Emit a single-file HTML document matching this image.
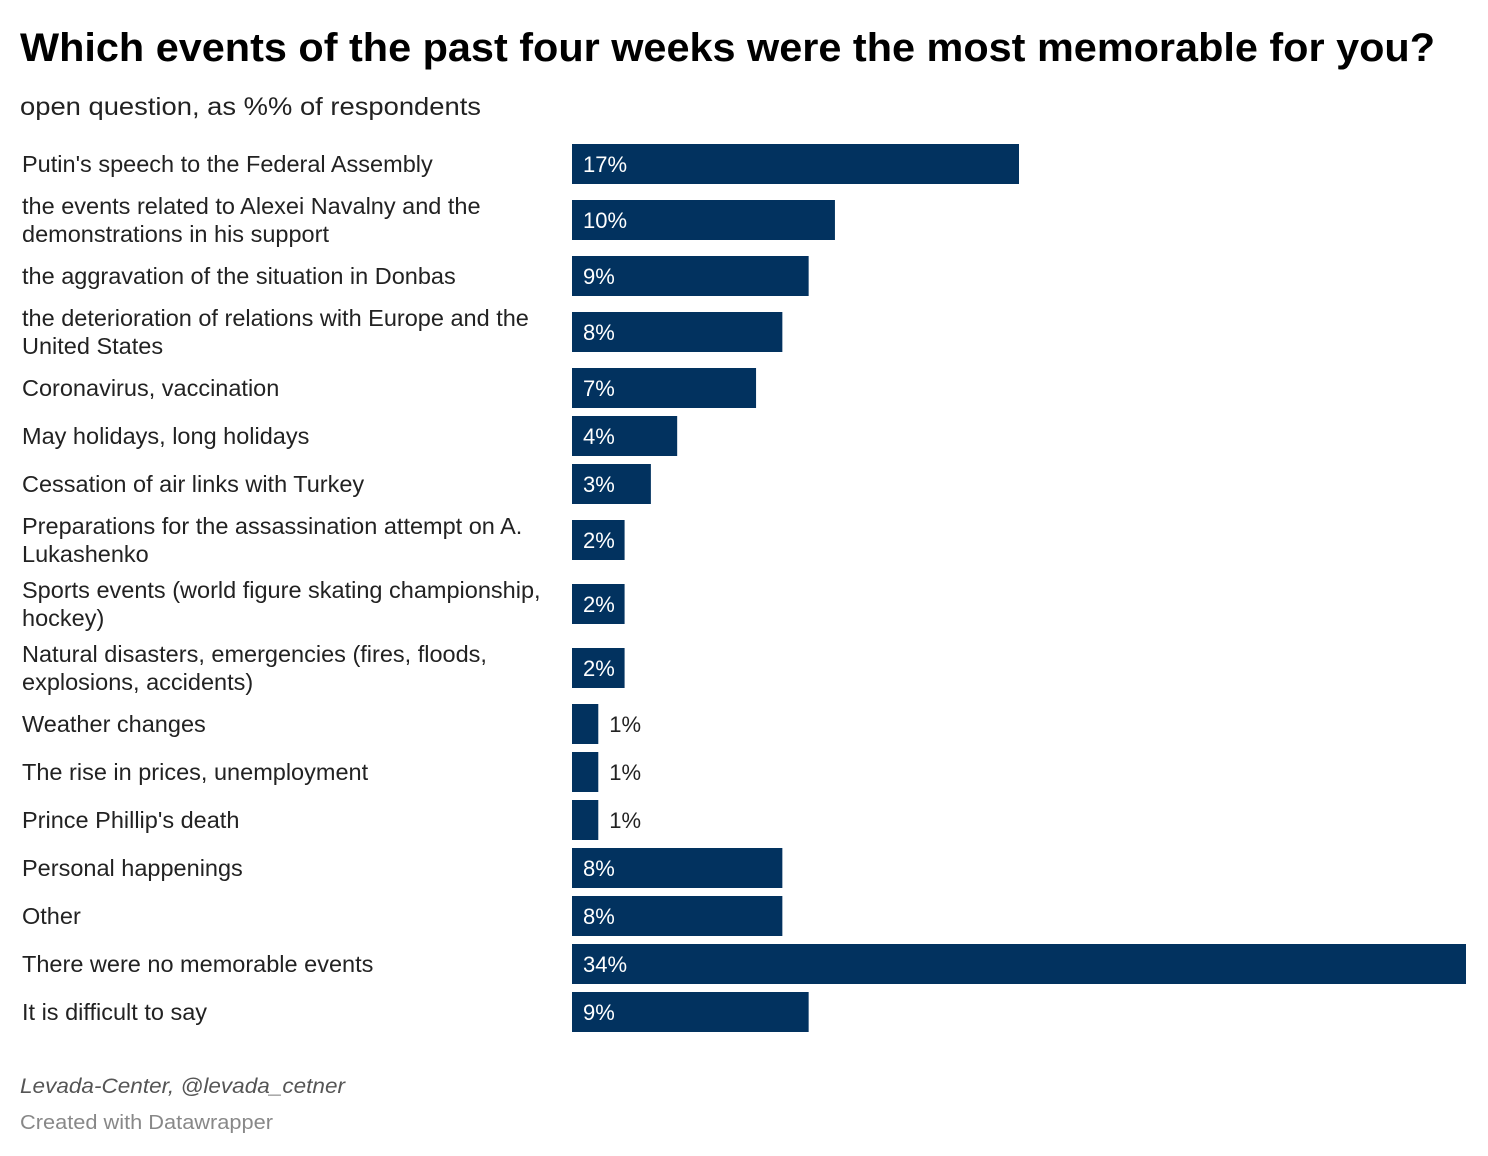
<!DOCTYPE html>
<html><head><meta charset="utf-8">
<style>
html,body{margin:0;padding:0;background:#fff;}
svg{display:block;font-family:"Liberation Sans",Arial,sans-serif;}
</style></head>
<body>
<svg id="chart" width="1488" height="1156" viewBox="0 0 1488 1156" xmlns="http://www.w3.org/2000/svg">
<text x="20" y="61" font-size="40" font-weight="bold" fill="#000" textLength="1415" lengthAdjust="spacingAndGlyphs">Which events of the past four weeks were the most memorable for you?</text>
<text x="20" y="115" font-size="25" fill="#222" textLength="461" lengthAdjust="spacingAndGlyphs">open question, as %% of respondents</text>
<g id="rows"></g>
<text x="20" y="1093" font-size="21" font-style="italic" fill="#555" textLength="325" lengthAdjust="spacingAndGlyphs">Levada-Center, @levada_cetner</text>
<text x="20" y="1129" font-size="20" fill="#888" textLength="253" lengthAdjust="spacingAndGlyphs">Created with Datawrapper</text>
</svg>
<script>
const categories = [
  ["Putin's speech to the Federal Assembly"],
  ["the events related to Alexei Navalny and the","demonstrations in his support"],
  ["the aggravation of the situation in Donbas"],
  ["the deterioration of relations with Europe and the","United States"],
  ["Coronavirus, vaccination"],
  ["May holidays, long holidays"],
  ["Cessation of air links with Turkey"],
  ["Preparations for the assassination attempt on A.","Lukashenko"],
  ["Sports events (world figure skating championship,","hockey)"],
  ["Natural disasters, emergencies (fires, floods,","explosions, accidents)"],
  ["Weather changes"],
  ["The rise in prices, unemployment"],
  ["Prince Phillip's death"],
  ["Personal happenings"],
  ["Other"],
  ["There were no memorable events"],
  ["It is difficult to say"]
];
const values = [17,10,9,8,7,4,3,2,2,2,1,1,1,8,8,34,9];
const valueLabels = ["17%","10%","9%","8%","7%","4%","3%","2%","2%","2%","1%","1%","1%","8%","8%","34%","9%"];

const rowTops = [144,200,256,312,368,416,464,520,584,648,704,752,800,848,896,944,992];
const x0 = 572, xMax = 1466, maxVal = 34, barH = 40;
const xScale = v => x0 + (xMax - x0) * v / maxVal;
const NS = "http://www.w3.org/2000/svg";
const g = document.getElementById("rows");

values.forEach((v, i) => {
  const top = rowTops[i], cy = top + barH / 2;
  const lines = categories[i];
  lines.forEach((ln, j) => {
    const t = document.createElementNS(NS, "text");
    
    
    t.setAttribute("x", 22);
    t.setAttribute("y", cy + 8 + (j - (lines.length - 1) / 2) * 28);
    t.setAttribute("font-size", "23.5");
    t.setAttribute("fill", "#222");
    t.textContent = ln;
    g.appendChild(t);
  });
  const w = xScale(v) - x0;
  const r = document.createElementNS(NS, "rect");
  
  
  r.setAttribute("x", x0);
  r.setAttribute("y", top);
  r.setAttribute("width", w);
  r.setAttribute("height", barH);
  r.setAttribute("fill", "#02325f");
  g.appendChild(r);
  const inside = w > 45;
  const vt = document.createElementNS(NS, "text");
  
  
  vt.setAttribute("x", inside ? x0 + 11 : x0 + w + 11);
  vt.setAttribute("y", cy + 8);
  vt.setAttribute("font-size", "22");
  vt.setAttribute("fill", inside ? "#fff" : "#222");
  vt.textContent = valueLabels[i];
  g.appendChild(vt);
});
</script>
</body></html>
